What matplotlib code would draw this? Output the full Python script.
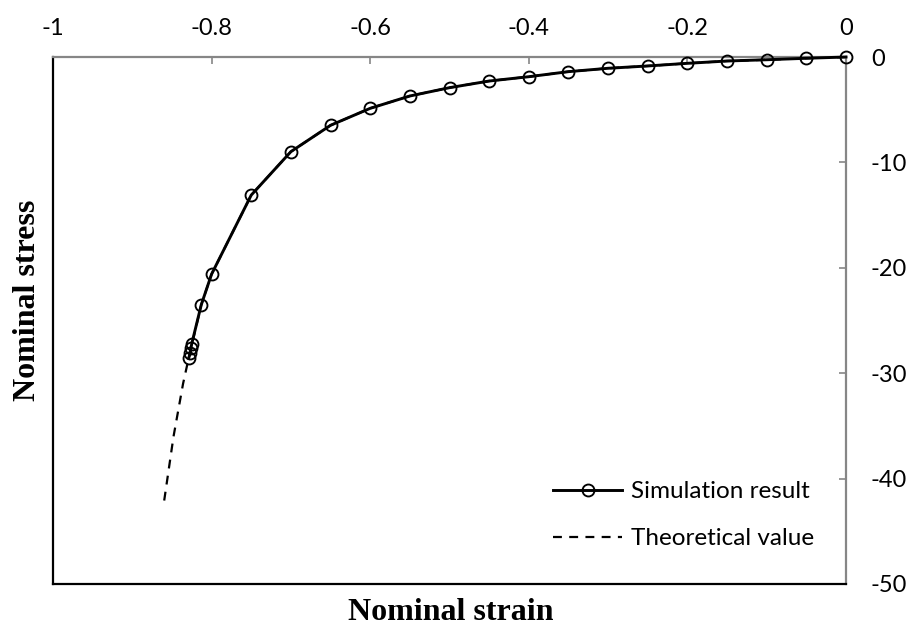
import numpy as np
import matplotlib
matplotlib.use("Agg")
import matplotlib.pyplot as plt

plt.rcParams['axes.unicode_minus'] = False

# simulation points
sim_strain = [0, -0.05, -0.1, -0.15, -0.2, -0.25, -0.3, -0.35, -0.4, -0.45, -0.5,
              -0.55, -0.6, -0.65, -0.7, -0.75, -0.8, -0.813, -0.825, -0.826, -0.827, -0.829]
sim_stress = [0, -0.12, -0.26, -0.38, -0.60, -0.85, -1.07, -1.39, -1.87, -2.28, -2.91,
              -3.70, -4.87, -6.48, -8.98, -13.1, -20.6, -23.5, -27.2, -27.6, -28.1, -28.6]

# theoretical curve (mostly hidden under the simulation line)
theo_strain = [0, -0.05, -0.1, -0.15, -0.2, -0.25, -0.3, -0.35, -0.4, -0.45, -0.5,
               -0.55, -0.6, -0.65, -0.7, -0.75, -0.8, -0.813, -0.829, -0.836, -0.848, -0.86]
theo_stress = [0, -0.12, -0.26, -0.38, -0.60, -0.85, -1.07, -1.39, -1.87, -2.28, -2.91,
               -3.70, -4.87, -6.48, -8.98, -13.1, -20.6, -23.5, -28.6, -31.0, -36.0, -42.2]

x_ticks = [-1, -0.8, -0.6, -0.4, -0.2, 0]
x_labels = ['-1', '-0.8', '-0.6', '-0.4', '-0.2', '0']
y_ticks = [0, -10, -20, -30, -40, -50]

tick_font = 'Lato'
label_font = 'Liberation Serif'

fig = plt.figure(figsize=(9.11, 6.39), dpi=100)
ax = fig.add_axes([53/911, 1-584/639, (846-53)/911, (584-57)/639])

ax.plot(theo_strain, theo_stress, color='black', lw=1.6, ls=(0, (4, 3.3)),
        label='Theoretical value', zorder=2)
ax.plot(sim_strain, sim_stress, color='black', lw=2.1, marker='o', ms=8.6,
        mfc='none', mec='black', mew=1.35, label='Simulation result', zorder=3,
        clip_on=False)

ax.set_xlim(-1, 0)
ax.set_ylim(-50, 0)
ax.set_xticks(x_ticks)
ax.set_xticklabels(x_labels)
ax.set_yticks(y_ticks)
ax.xaxis.tick_top()
ax.yaxis.tick_right()
ax.tick_params(axis='x', direction='in', length=5, width=1.2, color='#868686',
               pad=13, labelsize=17)
ax.tick_params(axis='y', direction='in', length=5, width=1.2, color='#868686',
               pad=18, labelsize=17)
for lab in ax.get_xticklabels() + ax.get_yticklabels():
    lab.set_fontfamily(tick_font)

for side in ['top', 'right']:
    ax.spines[side].set_color('#868686')
    ax.spines[side].set_linewidth(1.6)
for side in ['left', 'bottom']:
    ax.spines[side].set_color('black')
    ax.spines[side].set_linewidth(1.6)

fig.text(451/911, 1-612/639, 'Nominal strain', ha='center', va='center',
         fontsize=23, fontweight='bold', family=label_font)
fig.text(28/911, 1-300/639, 'Nominal stress', ha='center', va='center',
         rotation=90, fontsize=23, fontweight='bold', family=label_font)

handles, labels = ax.get_legend_handles_labels()
leg = ax.legend(handles[::-1], labels[::-1], loc='upper left',
                bbox_to_anchor=(553/911, 1-481/639), bbox_transform=fig.transFigure,
                frameon=False, numpoints=1, borderpad=0, borderaxespad=0,
                handlelength=2.85, labelspacing=1.07, handletextpad=0.35,
                prop={'family': tick_font, 'size': 17.5})

fig.savefig('out.png', dpi=100)
